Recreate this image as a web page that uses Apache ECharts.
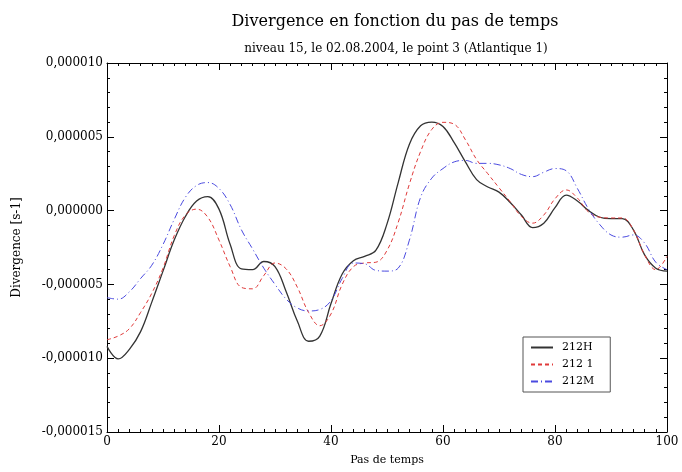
<!DOCTYPE html>
<html>
<head>
<meta charset="utf-8">
<script src="https://cdn.jsdelivr.net/npm/echarts@6/dist/echarts.min.js"></script>
<style>html,body{margin:0;padding:0;background:#fff;}#c{width:682px;height:472px;}</style>
</head>
<body>
<div id="c"></div>
<script>
// x positions (pas de temps)
var steps = [0,2,4,6,8,10,12,14,16,18,20,22,24,26,28,30,32,34,36,38,40,42,44,46,48,50,52,54,56,58,60,62,64,66,68,70,72,74,76,78,80,82,84,86,88,90,92,94,96,98,100];
// values in units of 1e-6 s-1
var s212H = [-9.2,-10.05,-9.4,-8.2,-6.2,-4.1,-2.0,-0.4,0.65,0.95,0.1,-2.3,-3.95,-4.0,-3.45,-3.8,-5.5,-7.5,-8.85,-8.5,-6.3,-4.3,-3.4,-3.1,-2.7,-0.9,1.9,4.5,5.75,6.0,5.7,4.6,3.3,2.1,1.6,1.25,0.55,-0.3,-1.15,-0.85,0.2,1.05,0.65,0.0,-0.45,-0.55,-0.55,-1.3,-3.0,-3.9,-4.1];
var s2121 = [-8.75,-8.5,-8.0,-6.9,-5.6,-3.9,-1.7,-0.3,0.1,-0.45,-2.0,-3.8,-5.2,-5.3,-4.4,-3.55,-3.95,-5.2,-6.9,-7.8,-7.0,-5.0,-3.8,-3.55,-3.5,-2.7,-0.8,1.8,4.0,5.5,5.98,5.85,4.8,3.46,2.5,1.55,0.6,-0.4,-0.85,-0.3,0.8,1.4,0.85,-0.1,-0.45,-0.5,-0.5,-1.3,-3.0,-4.0,-3.1];
var s212M = [-5.9,-6.0,-5.5,-4.6,-3.7,-2.3,-0.6,0.9,1.7,1.9,1.5,0.4,-1.3,-2.6,-3.9,-5.0,-6.0,-6.6,-6.8,-6.7,-6.1,-4.6,-3.55,-3.6,-4.05,-4.1,-3.9,-2.0,0.9,2.2,2.85,3.3,3.4,3.2,3.2,3.1,2.85,2.45,2.3,2.6,2.85,2.7,1.5,0.1,-0.95,-1.65,-1.8,-1.65,-2.2,-3.5,-4.0];
var seriesNames = ['212H','212 1','212M'];
var xTicks = [0,20,40,60,80,100];
var yTicks = [-15,-10,-5,0,5,10];

function pairs(arr){ return steps.map(function(x,i){ return [x, arr[i]]; }); }
var serif = 'DejaVu Serif';
function yfmt(v){ return (Math.round(v)/1e6).toFixed(6).replace('.', ','); }

var tickStyle = {show:true, inside:true, length:7, lineStyle:{color:'#000', width:1}};
var minorStyle = {show:true, length:3, lineStyle:{color:'#000', width:1}};

var chart = echarts.init(document.getElementById('c'), null, {renderer:'canvas'});
chart.setOption({
  backgroundColor:'#fff',
  animation:false,
  title:[
    {text:'Divergence en fonction du pas de temps', left:390, top:9, textAlign:'center',
     textStyle:{fontFamily:serif, fontSize:16, fontWeight:'normal', color:'#000'}},
    {text:'niveau 15, le 02.08.2004, le point 3 (Atlantique 1)', left:391, top:38, textAlign:'center',
     textStyle:{fontFamily:serif, fontSize:12, fontWeight:'normal', color:'#000'}}
  ],
  grid:{left:107, right:15, top:63, bottom:40},
  legend:{
    orient:'vertical', left:523, top:337, padding:[5,16,5,7],
    borderColor:'#555', borderWidth:1, itemWidth:22, itemHeight:10, itemGap:6,
    itemStyle:{opacity:0},
    textStyle:{fontFamily:serif, fontSize:11, color:'#000', padding:[0,0,0,4]},
    data:seriesNames
  },
  xAxis:[
    {type:'value', min:xTicks[0], max:xTicks[xTicks.length-1], interval:20, position:'bottom',
     name:'Pas de temps', nameLocation:'middle', nameGap:23,
     nameTextStyle:{fontFamily:serif, fontSize:11, color:'#000'},
     axisLine:{show:true, onZero:false, lineStyle:{color:'#000', width:1}},
     axisTick:tickStyle, minorTick:Object.assign({splitNumber:10}, minorStyle),
     axisLabel:{fontFamily:serif, fontSize:12, color:'#000', margin:4},
     splitLine:{show:false}},
    {type:'value', min:xTicks[0], max:xTicks[xTicks.length-1], interval:20, position:'top',
     axisLine:{show:true, onZero:false, lineStyle:{color:'#000', width:1}},
     axisTick:tickStyle, minorTick:Object.assign({splitNumber:10}, minorStyle),
     axisLabel:{show:false}, splitLine:{show:false}}
  ],
  yAxis:[
    {type:'value', min:yTicks[0], max:yTicks[yTicks.length-1], interval:5, position:'left',
     name:'Divergence [s-1]', nameLocation:'middle', nameGap:84, nameRotate:90,
     nameTextStyle:{fontFamily:serif, fontSize:12, color:'#000'},
     axisLine:{show:true, onZero:false, lineStyle:{color:'#000', width:1}},
     axisTick:tickStyle, minorTick:Object.assign({splitNumber:5}, minorStyle),
     axisLabel:{fontFamily:serif, fontSize:12, color:'#000', margin:4, formatter:yfmt},
     splitLine:{show:false}},
    {type:'value', min:yTicks[0], max:yTicks[yTicks.length-1], interval:5, position:'right',
     axisLine:{show:true, onZero:false, lineStyle:{color:'#000', width:1}},
     axisTick:tickStyle, minorTick:Object.assign({splitNumber:5}, minorStyle),
     axisLabel:{show:false}, splitLine:{show:false}}
  ],
  series:[
    {name:seriesNames[0], type:'line', data:pairs(s212H), smooth:0.4, symbol:'none',
     itemStyle:{color:'#333'}, lineStyle:{color:'#333', width:1.3, type:'solid'}},
    {name:seriesNames[1], type:'line', data:pairs(s2121), smooth:0.4, symbol:'none',
     itemStyle:{color:'#e03a3a'}, lineStyle:{color:'#e03a3a', width:1, type:[4,3]}},
    {name:seriesNames[2], type:'line', data:pairs(s212M), smooth:0.4, symbol:'none',
     itemStyle:{color:'#4a4ae0'}, lineStyle:{color:'#4a4ae0', width:1, type:[7,3,1,3]}}
  ]
});
</script>
</body>
</html>
